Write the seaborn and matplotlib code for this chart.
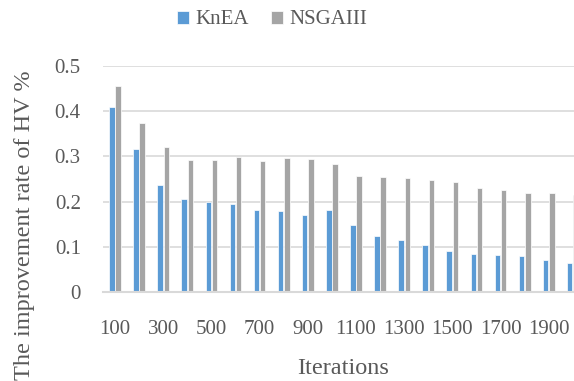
import matplotlib
matplotlib.use("Agg")
import matplotlib.pyplot as plt
import seaborn as sns
import pandas as pd

# HV improvement rate per iteration count for the two algorithms
iterations = [100, 200, 300, 400, 500, 600, 700, 800, 900, 1000,
              1100, 1200, 1300, 1400, 1500, 1600, 1700, 1800, 1900, 2000]
knea = [0.408, 0.317, 0.237, 0.206, 0.199, 0.195, 0.182, 0.179, 0.170, 0.182,
        0.149, 0.124, 0.116, 0.104, 0.091, 0.085, 0.082, 0.081, 0.071, 0.064]
nsgaiii = [0.455, 0.373, 0.321, 0.293, 0.293, 0.298, 0.290, 0.296, 0.294, 0.284,
           0.257, 0.254, 0.253, 0.248, 0.243, 0.231, 0.226, 0.220, 0.219, 0.215]
series_names = ["KnEA", "NSGAIII"]
palette = ["#5b9bd5", "#a5a5a5"]

df = pd.DataFrame({
    "Iterations": [str(i) for i in iterations] * 2,
    "value": knea + nsgaiii,
    "Algorithm": [series_names[0]] * len(iterations) + [series_names[1]] * len(iterations),
})

sns.set_theme(style="white")
plt.rcParams["font.family"] = ["Liberation Serif", "DejaVu Serif"]
text_color = "#595959"
grid_color = "#d9d9d9"

fig = plt.figure(figsize=(5.74, 3.81), dpi=100)
ax = fig.add_axes([0.1794, 0.2328, 0.8396, 0.5948])

sns.barplot(data=df, x="Iterations", y="value", hue="Algorithm",
            palette=palette, width=0.52, gap=0.12, ax=ax,
            edgecolor="white", linewidth=0.5, saturation=1, legend=True)

ax.set_ylim(0, 0.5)
ax.set_xlim(-0.5, len(iterations) - 0.5)
ax.set_yticks([0, 0.1, 0.2, 0.3, 0.4, 0.5])
ax.set_yticklabels(["0", "0.1", "0.2", "0.3", "0.4", "0.5"])
ax.set_xticks(range(0, len(iterations), 2))
ax.set_xticklabels([str(i) for i in iterations[::2]])

ax.yaxis.grid(True, color=grid_color, linewidth=1.2)
ax.set_axisbelow(True)
for side in ["top", "right", "left"]:
    ax.spines[side].set_visible(False)
ax.spines["bottom"].set_color(grid_color)
ax.spines["bottom"].set_linewidth(1.5)

ax.tick_params(axis="both", length=0, labelsize=15, colors=text_color)
ax.tick_params(axis="y", pad=16)
ax.tick_params(axis="x", pad=20)

ax.set_xlabel("Iterations", fontsize=17.5, color=text_color)
ax.set_ylabel("The improvement rate of HV %", fontsize=17.5, color=text_color)
ax.xaxis.set_label_coords(0.498, -0.29)
ax.yaxis.set_label_coords(-0.141, 0.297)

handles, labels = ax.get_legend_handles_labels()
ax.legend(handles, labels, loc="center", bbox_to_anchor=(272 / 574, 1 - 20 / 381),
          bbox_transform=fig.transFigure, ncol=2, frameon=False,
          fontsize=15, labelcolor=text_color, handlelength=0.6, handleheight=0.6,
          handletextpad=0.3, columnspacing=1.05)

fig.savefig("out.png", dpi=100)
